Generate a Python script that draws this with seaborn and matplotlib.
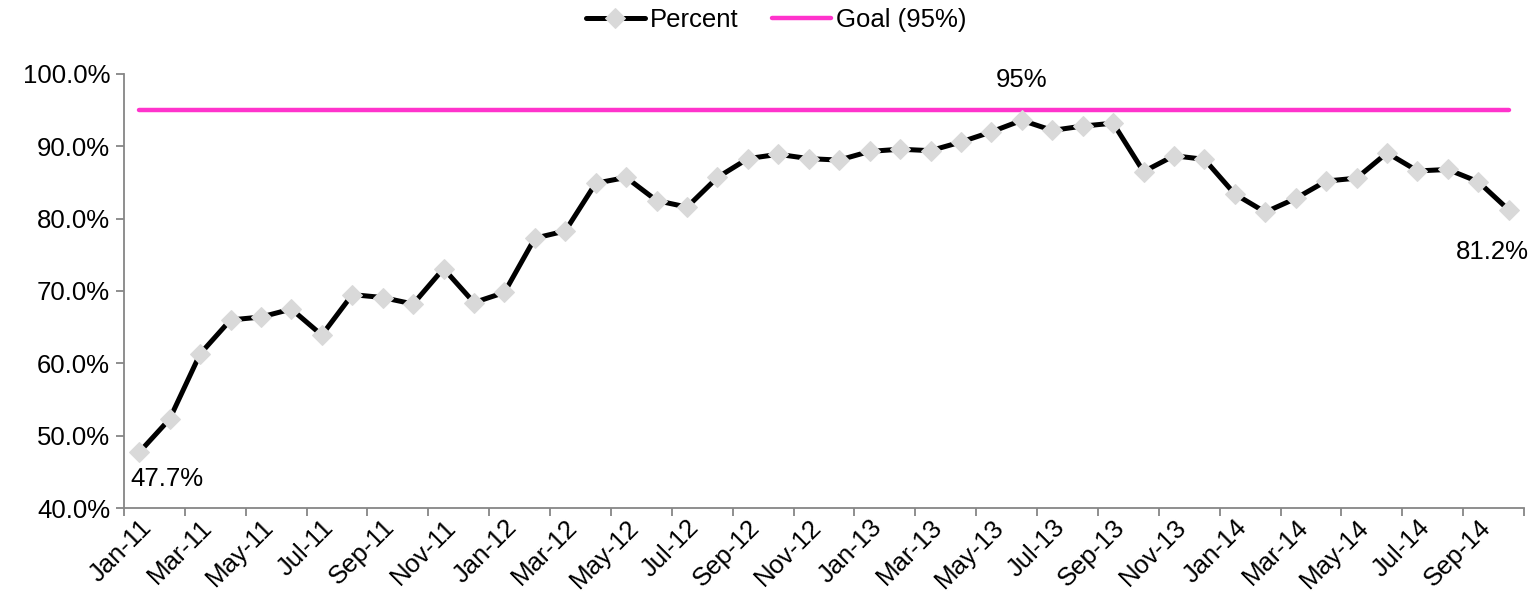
import matplotlib
matplotlib.use("Agg")
import matplotlib.pyplot as plt
import seaborn as sns
import numpy as np
import pandas as pd
from matplotlib.ticker import FixedLocator, FuncFormatter

months = ["Jan-11", "Feb-11", "Mar-11", "Apr-11", "May-11", "Jun-11", "Jul-11", "Aug-11",
          "Sep-11", "Oct-11", "Nov-11", "Dec-11", "Jan-12", "Feb-12", "Mar-12", "Apr-12",
          "May-12", "Jun-12", "Jul-12", "Aug-12", "Sep-12", "Oct-12", "Nov-12", "Dec-12",
          "Jan-13", "Feb-13", "Mar-13", "Apr-13", "May-13", "Jun-13", "Jul-13", "Aug-13",
          "Sep-13", "Oct-13", "Nov-13", "Dec-13", "Jan-14", "Feb-14", "Mar-14", "Apr-14",
          "May-14", "Jun-14", "Jul-14", "Aug-14", "Sep-14", "Oct-14"]
percent = [47.7, 52.3, 61.3, 66.0, 66.4, 67.5, 63.9, 69.5, 69.1, 68.2, 73.1, 68.4,
           69.8, 77.3, 78.3, 84.9, 85.7, 82.5, 81.6, 85.7, 88.3, 88.9, 88.3, 88.1,
           89.3, 89.6, 89.4, 90.6, 92.0, 93.6, 92.2, 92.8, 93.2, 86.5, 88.7, 88.2,
           83.4, 80.9, 82.8, 85.2, 85.6, 89.1, 86.6, 86.8, 85.1, 81.2]
goal = [95.0] * len(months)
y_ticks = [40, 50, 60, 70, 80, 90, 100]

df = pd.DataFrame({"idx": np.arange(len(months)), "month": months,
                   "Percent": percent, "Goal": goal})

sns.set_style("white")
plt.rcParams["font.family"] = ["Liberation Sans", "DejaVu Sans"]
plt.rcParams["text.color"] = "black"
plt.rcParams["xtick.color"] = "black"
plt.rcParams["ytick.color"] = "black"
FS = 18.5

fig = plt.figure(figsize=(15.37, 5.93), dpi=100)
ax = fig.add_axes([124 / 1537, 1 - 508 / 593, (1524 - 124) / 1537, (508 - 74) / 593])

sns.lineplot(data=df, x="idx", y="Goal", ax=ax, color="#FF33CC", linewidth=3.2,
             label="Goal (95%)", solid_capstyle="round")
sns.lineplot(data=df, x="idx", y="Percent", ax=ax, color="black", linewidth=3.6,
             marker="D", markersize=10, markerfacecolor="#D9D9D9",
             markeredgecolor="#D9D9D9", label="Percent")

n = len(months)
ax.set_xlim(-0.5, n - 0.5)
ax.set_ylim(40, 100)
ax.set_xlabel("")
ax.set_ylabel("")

# y axis
ax.yaxis.set_major_locator(FixedLocator(y_ticks))
ax.yaxis.set_major_formatter(FuncFormatter(lambda v, p: f"{v:.1f}%"))
ax.tick_params(axis="y", which="major", length=6, width=1.3, color="#868686",
               labelcolor="black", labelsize=FS, pad=4, left=True)

# x axis: tick marks between categories, labels on categories
ax.xaxis.set_major_locator(FixedLocator(np.arange(-0.5, n, 2)))
ax.xaxis.set_major_formatter(FuncFormatter(lambda v, p: ""))
ax.xaxis.set_minor_locator(FixedLocator(np.arange(0, n, 2)))
ax.set_xticklabels([months[i] for i in range(0, n, 2)], minor=True)
ax.tick_params(axis="x", which="major", length=6, width=1.3, color="#868686",
               bottom=True)
ax.tick_params(axis="x", which="minor", length=0, labelsize=FS, pad=5,
               labelcolor="black")
for lab in ax.get_xticklabels(minor=True):
    lab.set_rotation(45)
    lab.set_ha("right")
    lab.set_rotation_mode("anchor")

for s in ["top", "right"]:
    ax.spines[s].set_visible(False)
for s in ["left", "bottom"]:
    ax.spines[s].set_color("#868686")
    ax.spines[s].set_linewidth(1.3)

# data labels
ax.text(0 - 0.3, percent[0] - 2.0, f"{percent[0]:.1f}%", ha="left", va="top",
        fontsize=FS, color="black", clip_on=False)
ax.text(n - 1 + 0.66, percent[-1] - 4.1, f"{percent[-1]:.1f}%", ha="right", va="top",
        fontsize=FS, color="black", clip_on=False)
ax.text(29, 98.2, "95%", ha="center", va="baseline", fontsize=FS, color="black",
        clip_on=False)

# legend
handles, labels = ax.get_legend_handles_labels()
ax.legend_.remove()
order = [labels.index("Percent"), labels.index("Goal (95%)")]
leg = fig.legend([handles[i] for i in order], [labels[i] for i in order],
                 loc="upper center", bbox_to_anchor=(0.505, 1.025), ncol=2, frameon=False,
                 fontsize=FS, handlelength=2.3, handletextpad=0.2, columnspacing=1.3)
for t in leg.get_texts():
    t.set_color("black")

fig.savefig("out.png", dpi=100)
